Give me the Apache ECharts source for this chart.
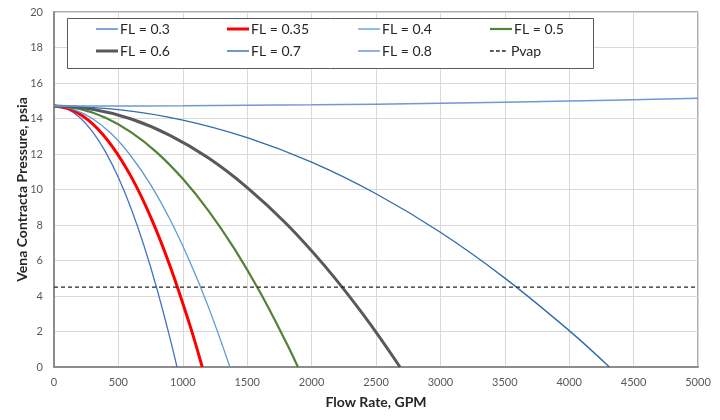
<!DOCTYPE html>
<html>
<head>
<meta charset="utf-8">
<script src="https://cdn.jsdelivr.net/npm/echarts@6/dist/echarts.min.js"></script>
<style>html,body{margin:0;padding:0;background:#fff}#c{width:720px;height:420px}</style>
</head>
<body>
<div id="c"></div>
<script>
// Values (flow in GPM, pressure in psia)
const q03 = [0, 100, 200, 300, 400, 500, 600, 700, 800, 900, 955];
const p03 = [14.7, 14.54, 14.06, 13.25, 12.12, 10.67, 8.90, 6.80, 4.38, 1.64, 0];
const q035 = [0, 150, 300, 450, 600, 750, 900, 1050, 1151];
const p035 = [14.7, 14.45, 13.70, 12.45, 10.71, 8.46, 5.71, 2.47, 0];
const q04 = [0, 150, 300, 450, 600, 750, 900, 1050, 1200, 1366];
const p04 = [14.7, 14.52, 13.99, 13.11, 11.86, 10.27, 8.32, 6.01, 3.36, 0];
const q05 = [0, 200, 400, 600, 800, 1000, 1200, 1400, 1600, 1800, 1894];
const p05 = [14.7, 14.54, 14.04, 13.22, 12.08, 10.60, 8.80, 6.67, 4.21, 1.42, 0];
const q06 = [0, 300, 600, 900, 1200, 1500, 1800, 2100, 2400, 2686];
const p06 = [14.7, 14.52, 13.97, 13.05, 11.77, 10.11, 8.10, 5.71, 2.96, 0];
const q07 = [0, 500, 1000, 1500, 2000, 2500, 3000, 3500, 4000, 4312];
const p07 = [14.7, 14.50, 13.91, 12.92, 11.54, 9.76, 7.59, 5.01, 2.05, 0];
const q08 = [0, 1000, 2000, 3000, 4000, 5000];
const p08 = [14.7, 14.72, 14.77, 14.86, 14.98, 15.14];
const qVap = [0, 5000];
const pVap = [4.5, 4.5];
const names = ['FL = 0.3', 'FL = 0.35', 'FL = 0.4', 'FL = 0.5', 'FL = 0.6', 'FL = 0.7', 'FL = 0.8', 'Pvap'];
const xTicks = [0, 500, 1000, 1500, 2000, 2500, 3000, 3500, 4000, 4500, 5000];
const yTicks = [0, 2, 4, 6, 8, 10, 12, 14, 16, 18, 20];

const pairs = (xs, ys) => xs.map((x, i) => [x, ys[i]]);
const FONT = 'Lato';

const styles = [
  { color: '#4472C4', width: 1.3 },
  { color: '#FF0000', width: 3 },
  { color: '#5B9BD5', width: 1.3 },
  { color: '#548235', width: 2.2 },
  { color: '#595959', width: 3 },
  { color: '#2F6EAA', width: 1.4 },
  { color: '#7097D8', width: 1.5 },
  { color: '#262626', width: 1.4, type: [4, 3] }
];
const datas = [pairs(q03, p03), pairs(q035, p035), pairs(q04, p04), pairs(q05, p05),
               pairs(q06, p06), pairs(q07, p07), pairs(q08, p08), pairs(qVap, pVap)];

const series = names.map((n, i) => ({
  name: n,
  type: 'line',
  data: datas[i],
  smooth: i === 7 ? false : 0.4,
  showSymbol: false,
  symbol: 'none',
  color: styles[i].color,
  lineStyle: { color: styles[i].color, width: styles[i].width, type: styles[i].type || 'solid' },
  z: i === 7 ? 3 : 2
}));

// legend positions (left of icon, row center)
const colX = [96, 227, 358, 490];
const rowY = [31, 53];
const dashIcon = 'path://M0,0h5v2h-5z M8,0h5v2h-5z M16,0h5v2h-5z';
const legends = names.map((n, i) => ({
  data: [n],
  left: colX[i % 4],
  top: rowY[Math.floor(i / 4)] - 9,
  padding: 0,
  icon: i === 7 ? dashIcon : 'rect',
  itemWidth: 22,
  itemHeight: i === 7 ? 1.5 : Math.max(1.2, styles[i].width),
  itemGap: 0,
  selectedMode: false,
  textStyle: { fontFamily: FONT, fontSize: 14, color: '#262626', padding: [0, 0, 0, -3] },
  z: 6
}));

const chart = echarts.init(document.getElementById('c'), null, { renderer: 'canvas' });
chart.setOption({
  animation: false,
  backgroundColor: '#ffffff',
  grid: { left: 54, right: 22, top: 12, bottom: 53, show: true, borderColor: '#595959', borderWidth: 1,
          containLabel: false, outerBoundsMode: 'none' },
  legend: legends,
  graphic: [{
    type: 'rect', z: 5, left: 67, top: 18,
    shape: { width: 526, height: 50 },
    style: { fill: '#ffffff', stroke: '#595959', lineWidth: 1 }
  }],
  xAxis: {
    type: 'value', min: xTicks[0], max: xTicks[xTicks.length - 1], interval: 500,
    name: 'Flow Rate, GPM', nameLocation: 'middle', nameGap: 28, nameMoveOverlap: false,
    nameTextStyle: { fontFamily: FONT, fontSize: 14, fontWeight: 'bold', color: '#262626' },
    axisLine: { show: true, onZero: false, lineStyle: { color: '#8c8c8c', width: 2 } },
    axisTick: { show: false },
    axisLabel: { fontFamily: FONT, fontSize: 11, color: '#595959', margin: 10, formatter: v => String(v) },
    splitLine: { show: true, lineStyle: { color: '#d9d9d9', width: 1 } }
  },
  yAxis: {
    type: 'value', min: yTicks[0], max: yTicks[yTicks.length - 1], interval: 2,
    name: 'Vena Contracta Pressure, psia', nameLocation: 'middle', nameGap: 25, nameMoveOverlap: false,
    nameTextStyle: { fontFamily: FONT, fontSize: 14, fontWeight: 'bold', color: '#262626' },
    axisLine: { show: true, onZero: false, lineStyle: { color: '#8c8c8c', width: 2 } },
    axisTick: { show: false },
    axisLabel: { fontFamily: FONT, fontSize: 11, color: '#595959', margin: 11, formatter: v => String(v) },
    splitLine: { show: true, lineStyle: { color: '#d9d9d9', width: 1 } }
  },
  series: series
});
</script>
</body>
</html>
